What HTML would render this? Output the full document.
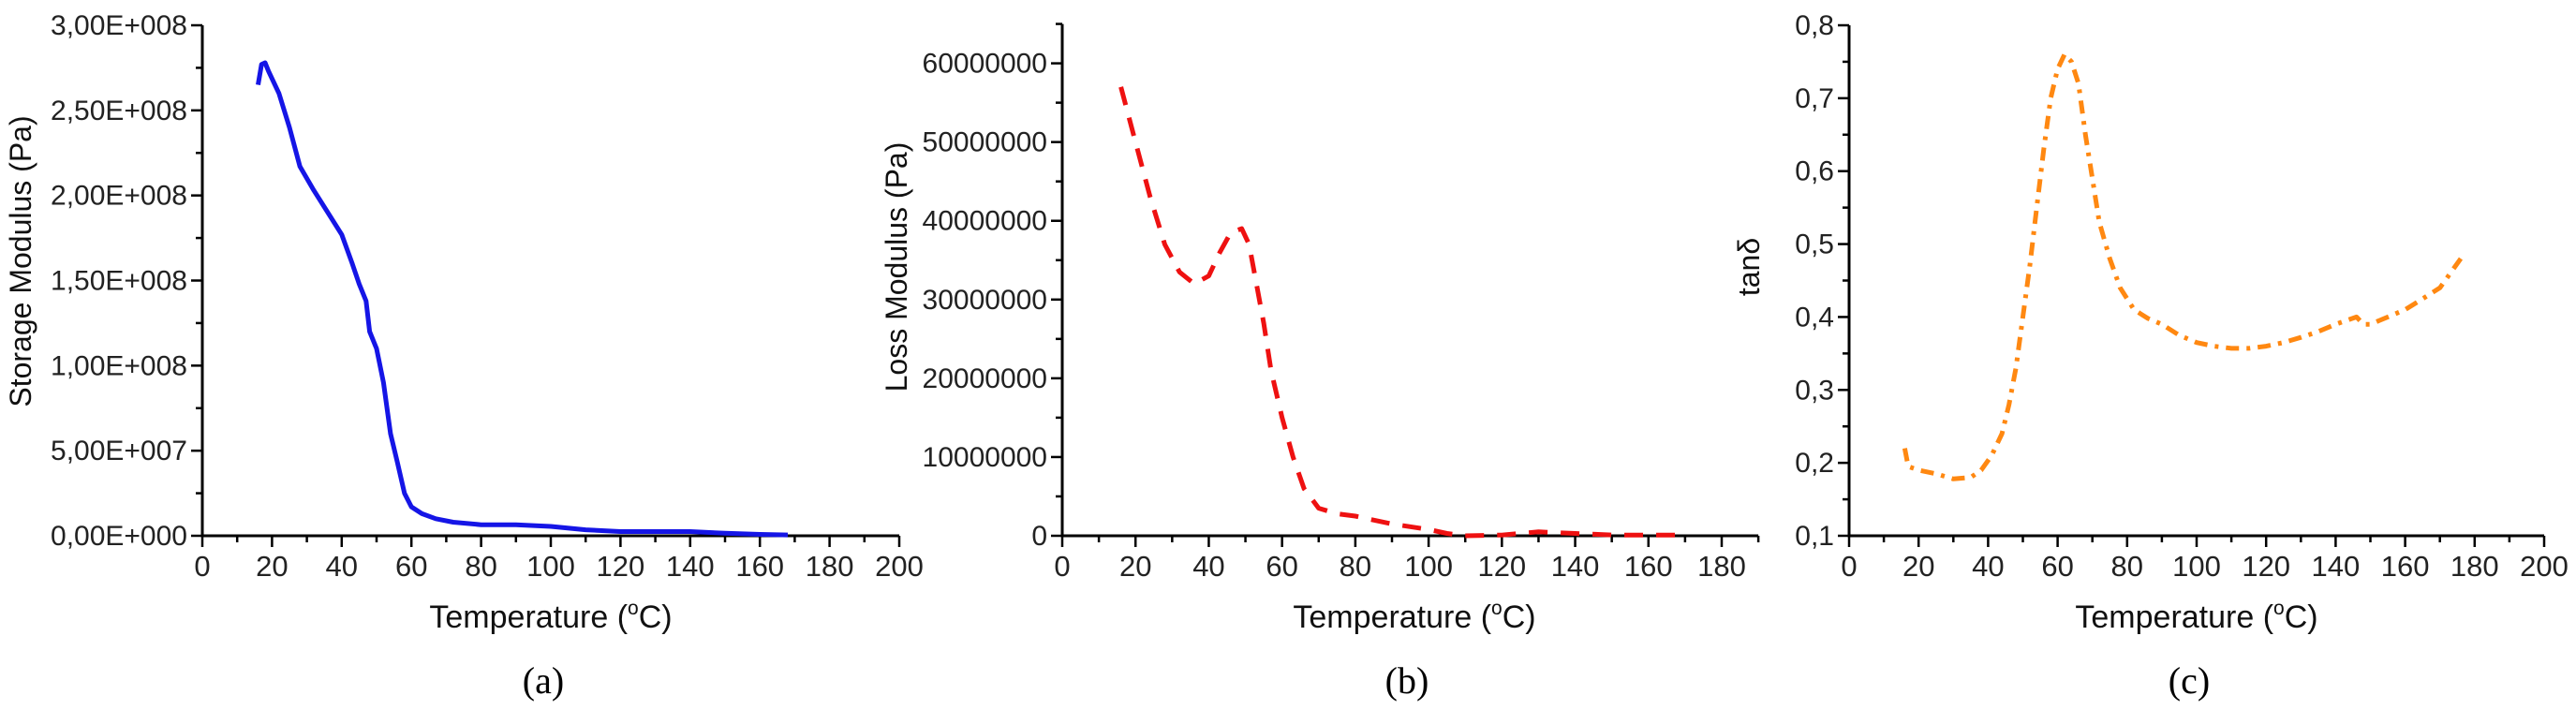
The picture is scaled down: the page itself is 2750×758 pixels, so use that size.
<!DOCTYPE html>
<html><head><meta charset="utf-8"><style>
html,body{margin:0;padding:0;background:#fff;}
svg{display:block;font-family:"Liberation Sans",Arial,sans-serif;}
</style></head><body>
<svg id="s" width="2750" height="758" viewBox="0 0 2750 758" xmlns="http://www.w3.org/2000/svg"></svg>
<script>
const aTemps=[16,17,18,19,22,25,28,32,36,40,43,45,47,48,50,52,54,56,58,60,63,67,72,80,90,100,110,120,140,150,160,168];
const aStorage=[2.65,2.77,2.78,2.73,2.6,2.4,2.17,2.03,1.9,1.77,1.6,1.48,1.38,1.2,1.1,0.9,0.6,0.43,0.25,0.17,0.13,0.1,0.08,0.065,0.065,0.055,0.035,0.025,0.025,0.015,0.008,0.005];
const bTemps=[16,20,24,28,32,36,40,43,46,49,51,53,55,57,60,63,66,70,75,80,90,100,105,110,120,130,140,150,160,170];
const bLoss=[57,50,43,37,33.5,32,33,36,38.5,39,37,32,27,21,15,10,6,3.5,2.8,2.5,1.5,0.8,0.3,0,0.1,0.5,0.3,0.1,0.1,0.1];
const cTemps=[16,17,20,25,30,35,38,41,44,46,48,50,52,54,56,58,60,62,64,66,68,70,72,75,78,82,86,90,95,100,105,110,115,120,125,130,135,140,143,146,148,150,155,160,165,170,173,176];
const cTan=[0.22,0.195,0.19,0.185,0.178,0.18,0.19,0.21,0.24,0.28,0.33,0.4,0.47,0.55,0.63,0.7,0.74,0.76,0.75,0.72,0.65,0.59,0.53,0.48,0.44,0.41,0.398,0.39,0.375,0.365,0.36,0.357,0.357,0.36,0.365,0.372,0.38,0.39,0.395,0.4,0.39,0.39,0.4,0.41,0.425,0.44,0.46,0.48];
const aYTicks=["0,00E+000","5,00E+007","1,00E+008","1,50E+008","2,00E+008","2,50E+008","3,00E+008"];
const bYTicks=["0","10000000","20000000","30000000","40000000","50000000","60000000"];
const cYTicks=["0,1","0,2","0,3","0,4","0,5","0,6","0,7","0,8"];
const xTicksA=[0,20,40,60,80,100,120,140,160,180,200];
const xTicksB=[0,20,40,60,80,100,120,140,160,180];

const S=document.getElementById('s');
const NS='http://www.w3.org/2000/svg';
function mk(tag,attrs,parent){const e=document.createElementNS(NS,tag);for(const k in attrs)e.setAttribute(k,attrs[k]);(parent||S).appendChild(e);return e;}

function panel(o){
  const g=mk('g',{});
  
  
  const sx=v=>o.x0+(v-o.xmin)/(o.xmax-o.xmin)*(o.x1-o.x0);
  const sy=v=>o.y0+(v-o.ymin)/(o.ymax-o.ymin)*(o.y1-o.y0);
  const ax=mk('path',{d:`M${o.x0},${sy(o.yAxTop)} V${o.y0} H${sx(o.xAxEnd)}`,stroke:'#000','stroke-width':3,fill:'none'},g);
  
  
  for(let v=o.xmin;v<=o.xAxEnd+0.01;v+=10){
    const major=Math.round(v)%20===0;
    mk('line',{x1:sx(v),x2:sx(v),y1:o.y0,y2:o.y0+(major?12:7),stroke:'#000','stroke-width':2.5},g);
  }
  o.xTicks.forEach(v=>{
    const t=mk('text',{x:sx(v),y:o.y0+43,'font-size':31,'text-anchor':'middle',fill:'#222'},g);
    t.textContent=v;
    
    
  });
  for(let v=o.ymin;v<=o.yAxTop+1e-9;v+=o.yMinor){
    const idx=Math.round((v-o.ymin)/o.yMinor);
    const major=idx%2===0;
    mk('line',{x1:o.x0,x2:o.x0-(major?12:7),y1:sy(v),y2:sy(v),stroke:'#000','stroke-width':2.5},g);
  }
  o.yTicks.forEach((lab,i)=>{
    const v=o.ymin+i*o.yMinor*2;
    const t=mk('text',{x:o.x0-16,y:sy(v)+10,'font-size':30,'text-anchor':'end',fill:'#222'},g);
    t.textContent=lab;
    
    
  });
  const yt=mk('text',{x:0,y:0,'font-size':o.ytSize||32,'text-anchor':'middle',fill:'#111',transform:`translate(${o.ytx},${o.yty}) rotate(-90)`},g);
  yt.textContent=o.ytitle;
  
  
  const xt=mk('text',{x:o.xtx,y:670,'font-size':34,'text-anchor':'middle',fill:'#111'},g);
  xt.innerHTML='Temperature (<tspan font-size="21" dy="-14">o</tspan><tspan dy="14">C)</tspan>';
  
  
  const lb=mk('text',{x:o.xtx-8,y:740,'font-size':40,'text-anchor':'middle',fill:'#000','font-family':'"Liberation Serif",serif'},g);
  lb.textContent=o.letter;
  
  
  const d=o.xs.map((x,i)=>(i?'L':'M')+sx(x).toFixed(1)+','+sy(o.ys[i]).toFixed(1)).join(' ');
  const p=mk('path',{d:d,stroke:o.color,'stroke-width':5,fill:'none','stroke-linejoin':'round','stroke-dasharray':o.dash||'none'},g);
  
  
}
panel({name:'storage-modulus-chart',x0:216,x1:960,xmin:0,xmax:200,xAxEnd:200,y0:572,y1:27,ymin:0,ymax:3,yAxTop:3,yMinor:0.25,
  yTicks:aYTicks,xTicks:xTicksA,ytitle:'Storage Modulus (Pa)',ytx:33,yty:279,xtx:588,letter:'(a)',xs:aTemps,ys:aStorage,color:'#1515e6'});
panel({name:'loss-modulus-chart',x0:1134,x1:1838,xmin:0,xmax:180,xAxEnd:190,y0:572,y1:67.6,ymin:0,ymax:60,yAxTop:65,yMinor:5,
  yTicks:bYTicks,xTicks:xTicksB,ytitle:'Loss Modulus (Pa)',ytx:968,yty:285,xtx:1510,letter:'(b)',xs:bTemps,ys:bLoss,color:'#ee1111',dash:'20 14'});
panel({name:'tan-delta-chart',x0:1974,x1:2716,xmin:0,xmax:200,xAxEnd:200,y0:572,y1:27,ymin:0.1,ymax:0.8,yAxTop:0.8,yMinor:0.05,
  yTicks:cYTicks,xTicks:xTicksA,ytitle:'tanδ',ytx:1878,yty:285,xtx:2345,letter:'(c)',xs:cTemps,ys:cTan,color:'#ff8811',dash:'14 8 4 8'});
</script>
</body></html>
